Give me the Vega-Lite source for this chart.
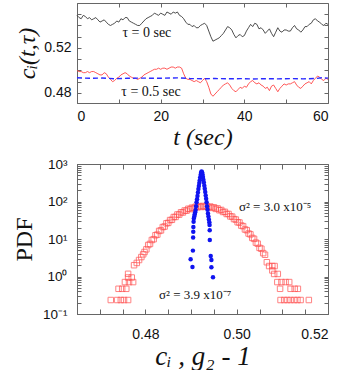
{
  "$schema": "https://vega.github.io/schema/vega-lite/v6.json",
  "background": "white",
  "padding": {"left": 11, "top": 2, "right": 5, "bottom": 0},
  "spacing": 6,
  "config": {
    "view": {"stroke": "#666", "strokeWidth": 1},
    "axis": {
      "grid": false,
      "domainColor": "#666",
      "tickColor": "#666",
      "labelFont": "Liberation Sans",
      "labelFontSize": 13.5,
      "labelColor": "#111",
      "titleFont": "Liberation Serif",
      "titleFontWeight": "normal",
      "titleFontSize": 24,
      "titleColor": "#111"
    }
  },
  "datasets": {
    "series": [
      {"t":0,"a":0.549,"b":0.500},{"t":0.5,"a":0.547,"b":0.499},{"t":1,"a":0.546,"b":0.499},{"t":1.5,"a":0.549,"b":0.498},
      {"t":2,"a":0.548,"b":0.498},{"t":2.5,"a":0.546,"b":0.499},{"t":3,"a":0.547,"b":0.498},{"t":3.5,"a":0.545,"b":0.499},
      {"t":4,"a":0.546,"b":0.499},{"t":4.5,"a":0.547,"b":0.498},{"t":5,"a":0.545,"b":0.497},{"t":5.5,"a":0.543,"b":0.496},
      {"t":6,"a":0.544,"b":0.496},{"t":6.5,"a":0.545,"b":0.498},{"t":7,"a":0.543,"b":0.497},{"t":7.5,"a":0.541,"b":0.494},
      {"t":8,"a":0.540,"b":0.492},{"t":8.5,"a":0.541,"b":0.490},{"t":9,"a":0.542,"b":0.491},{"t":9.5,"a":0.544,"b":0.493},
      {"t":10,"a":0.543,"b":0.494},{"t":10.5,"a":0.546,"b":0.496},{"t":11,"a":0.545,"b":0.497},{"t":11.5,"a":0.547,"b":0.498},
      {"t":12,"a":0.547,"b":0.497},{"t":12.5,"a":0.544,"b":0.495},{"t":13,"a":0.543,"b":0.494},{"t":13.5,"a":0.542,"b":0.493},
      {"t":14,"a":0.541,"b":0.493},{"t":14.5,"a":0.540,"b":0.492},{"t":15,"a":0.540,"b":0.493},{"t":15.5,"a":0.542,"b":0.494},
      {"t":16,"a":0.544,"b":0.496},{"t":16.5,"a":0.546,"b":0.497},{"t":17,"a":0.547,"b":0.498},{"t":17.5,"a":0.548,"b":0.499},
      {"t":18,"a":0.549,"b":0.500},{"t":18.5,"a":0.551,"b":0.501},{"t":19,"a":0.550,"b":0.501},{"t":19.5,"a":0.549,"b":0.502},
      {"t":20,"a":0.551,"b":0.501},{"t":20.5,"a":0.550,"b":0.502},{"t":21,"a":0.549,"b":0.502},{"t":21.5,"a":0.552,"b":0.501},
      {"t":22,"a":0.551,"b":0.502},{"t":22.5,"a":0.550,"b":0.503},{"t":23,"a":0.552,"b":0.503},{"t":23.5,"a":0.551,"b":0.502},
      {"t":24,"a":0.552,"b":0.503},{"t":24.5,"a":0.549,"b":0.503},{"t":25,"a":0.548,"b":0.502},{"t":25.5,"a":0.546,"b":0.497},
      {"t":26,"a":0.543,"b":0.493},{"t":26.5,"a":0.541,"b":0.492},{"t":27,"a":0.541,"b":0.492},{"t":27.5,"a":0.539,"b":0.491},
      {"t":28,"a":0.540,"b":0.490},{"t":28.5,"a":0.538,"b":0.491},{"t":29,"a":0.538,"b":0.490},{"t":29.5,"a":0.540,"b":0.489},
      {"t":30,"a":0.541,"b":0.491},{"t":30.5,"a":0.542,"b":0.493},{"t":31,"a":0.540,"b":0.490},{"t":31.5,"a":0.535,"b":0.485},
      {"t":32,"a":0.530,"b":0.479},{"t":32.5,"a":0.526,"b":0.477},{"t":33,"a":0.527,"b":0.479},{"t":33.5,"a":0.528,"b":0.481},
      {"t":34,"a":0.529,"b":0.483},{"t":34.5,"a":0.531,"b":0.485},{"t":35,"a":0.533,"b":0.487},{"t":35.5,"a":0.536,"b":0.488},
      {"t":36,"a":0.539,"b":0.489},{"t":36.5,"a":0.538,"b":0.487},{"t":37,"a":0.536,"b":0.484},{"t":37.5,"a":0.532,"b":0.482},
      {"t":38,"a":0.529,"b":0.481},{"t":38.5,"a":0.531,"b":0.483},{"t":39,"a":0.532,"b":0.485},{"t":39.5,"a":0.530,"b":0.484},
      {"t":40,"a":0.531,"b":0.486},{"t":40.5,"a":0.535,"b":0.485},{"t":41,"a":0.538,"b":0.488},{"t":41.5,"a":0.541,"b":0.490},
      {"t":42,"a":0.539,"b":0.491},{"t":42.5,"a":0.542,"b":0.489},{"t":43,"a":0.541,"b":0.488},{"t":43.5,"a":0.537,"b":0.489},
      {"t":44,"a":0.538,"b":0.487},{"t":44.5,"a":0.536,"b":0.486},{"t":45,"a":0.533,"b":0.484},{"t":45.5,"a":0.535,"b":0.485},
      {"t":46,"a":0.537,"b":0.482},{"t":46.5,"a":0.533,"b":0.486},{"t":47,"a":0.530,"b":0.487},{"t":47.5,"a":0.534,"b":0.484},
      {"t":48,"a":0.538,"b":0.481},{"t":48.5,"a":0.535,"b":0.484},{"t":49,"a":0.534,"b":0.486},{"t":49.5,"a":0.536,"b":0.488},
      {"t":50,"a":0.536,"b":0.487},{"t":50.5,"a":0.535,"b":0.488},{"t":51,"a":0.535,"b":0.488},{"t":51.5,"a":0.538,"b":0.489},
      {"t":52,"a":0.540,"b":0.490},{"t":52.5,"a":0.537,"b":0.487},{"t":53,"a":0.536,"b":0.485},{"t":53.5,"a":0.534,"b":0.484},
      {"t":54,"a":0.536,"b":0.486},{"t":54.5,"a":0.539,"b":0.488},{"t":55,"a":0.539,"b":0.489},{"t":55.5,"a":0.541,"b":0.490},
      {"t":56,"a":0.542,"b":0.488},{"t":56.5,"a":0.545,"b":0.491},{"t":57,"a":0.546,"b":0.493},{"t":57.5,"a":0.544,"b":0.495},
      {"t":58,"a":0.543,"b":0.494},{"t":58.5,"a":0.541,"b":0.492},{"t":59,"a":0.540,"b":0.491},{"t":59.5,"a":0.542,"b":0.493},
      {"t":60,"a":0.541,"b":0.492}
    ],
    "g2series": [
      {"t":0,"g":0.4935},{"t":3,"g":0.4930},{"t":6,"g":0.4932},{"t":9,"g":0.4926},{"t":12,"g":0.4930},{"t":15,"g":0.4932},
      {"t":18,"g":0.4930},{"t":21,"g":0.4931},{"t":24,"g":0.4934},{"t":27,"g":0.4928},{"t":30,"g":0.4926},{"t":33,"g":0.4928},
      {"t":36,"g":0.4925},{"t":39,"g":0.4927},{"t":42,"g":0.4924},{"t":45,"g":0.4926},{"t":48,"g":0.4925},{"t":51,"g":0.4927},
      {"t":54,"g":0.4925},{"t":57,"g":0.4928},{"t":58.5,"g":0.4935},{"t":60,"g":0.4931}
    ],
    "pdf_c": [
      {"x":0.4724,"p":0.236},{"x":0.4738,"p":0.236},{"x":0.4746,"p":0.236},{"x":0.4753,"p":0.236},{"x":0.4762,"p":0.236},
      {"x":0.4741,"p":0.47},{"x":0.4749,"p":0.47},{"x":0.4758,"p":0.47},
      {"x":0.4755,"p":0.71},{"x":0.4764,"p":0.71},{"x":0.4773,"p":0.71},
      {"x":0.4762,"p":0.94},{"x":0.4770,"p":0.94},{"x":0.4762,"p":1.18},
      {"x":0.4775,"p":2.0},{"x":0.4781,"p":2.3},{"x":0.4786,"p":2.75},{"x":0.4791,"p":3.3},{"x":0.4795,"p":3.9},{"x":0.4798,"p":4.5},
      {"x":0.4802,"p":5.3},{"x":0.4806,"p":6.9},{"x":0.4810,"p":7.4},{"x":0.4814,"p":9.4},{"x":0.4818,"p":9.9},{"x":0.4822,"p":12.6},
      {"x":0.4826,"p":13.1},{"x":0.4830,"p":16.4},{"x":0.4834,"p":17.0},{"x":0.4838,"p":20.8},{"x":0.4842,"p":21.5},{"x":0.4846,"p":26.2},
      {"x":0.4850,"p":26.9},{"x":0.4854,"p":32.0},{"x":0.4858,"p":32.5},{"x":0.4862,"p":38.5},{"x":0.4866,"p":38.8},{"x":0.4870,"p":45.0},
      {"x":0.4874,"p":44.8},{"x":0.4878,"p":51.5},{"x":0.4882,"p":51.0},{"x":0.4886,"p":57.5},{"x":0.4890,"p":57.0},{"x":0.4894,"p":64.0},
      {"x":0.4898,"p":62.5},{"x":0.4902,"p":68.5},{"x":0.4906,"p":66.5},{"x":0.4910,"p":72.5},{"x":0.4914,"p":70.0},{"x":0.4918,"p":75.0},
      {"x":0.4922,"p":71.5},{"x":0.4926,"p":76.0},{"x":0.4930,"p":72.0},{"x":0.4934,"p":75.5},{"x":0.4938,"p":70.5},{"x":0.4942,"p":73.5},
      {"x":0.4946,"p":67.5},{"x":0.4950,"p":70.0},{"x":0.4954,"p":63.5},{"x":0.4958,"p":65.5},{"x":0.4962,"p":58.5},{"x":0.4966,"p":59.5},
      {"x":0.4970,"p":52.5},{"x":0.4974,"p":53.0},{"x":0.4978,"p":46.5},{"x":0.4982,"p":46.5},{"x":0.4986,"p":40.0},{"x":0.4990,"p":39.5},
      {"x":0.4994,"p":34.0},{"x":0.4998,"p":33.0},{"x":0.5002,"p":28.0},{"x":0.5006,"p":27.5},{"x":0.5010,"p":22.8},{"x":0.5014,"p":22.0},
      {"x":0.5018,"p":18.0},{"x":0.5022,"p":17.2},{"x":0.5026,"p":14.0},{"x":0.5030,"p":13.3},{"x":0.5034,"p":10.7},{"x":0.5038,"p":10.1},
      {"x":0.5042,"p":8.0},{"x":0.5046,"p":7.5},{"x":0.5050,"p":5.8},{"x":0.5054,"p":5.5},{"x":0.5058,"p":4.2},{"x":0.5062,"p":3.8},
      {"x":0.5066,"p":2.4},{"x":0.5071,"p":1.9},{"x":0.5078,"p":1.9},{"x":0.5083,"p":1.9},{"x":0.5078,"p":1.45},{"x":0.5082,"p":1.17},
      {"x":0.5090,"p":1.17},
      {"x":0.5089,"p":0.71},{"x":0.5098,"p":0.71},{"x":0.5107,"p":0.71},{"x":0.5115,"p":0.71},
      {"x":0.5095,"p":0.47},{"x":0.5118,"p":0.47},{"x":0.5127,"p":0.47},{"x":0.5134,"p":0.47},
      {"x":0.5096,"p":0.236},{"x":0.5104,"p":0.236},{"x":0.5111,"p":0.236},{"x":0.5118,"p":0.236},{"x":0.5126,"p":0.236},
      {"x":0.5133,"p":0.236},{"x":0.5140,"p":0.236},{"x":0.5158,"p":0.236}
    ],
    "pdf_g": [
      {"x":0.4899,"p":2.9},{"x":0.4903,"p":1.8},{"x":0.4904,"p":4.9},{"x":0.49045,"p":11},{"x":0.49048,"p":15.7},{"x":0.4905,"p":21},
      {"x":0.49055,"p":29},{"x":0.4906,"p":35},{"x":0.4907,"p":40},{"x":0.4908,"p":46},{"x":0.4909,"p":52},{"x":0.4910,"p":59},
      {"x":0.4911,"p":75},{"x":0.4912,"p":95},{"x":0.4913,"p":115},{"x":0.4914,"p":140},{"x":0.4915,"p":175},{"x":0.4916,"p":215},
      {"x":0.4917,"p":260},{"x":0.4918,"p":310},{"x":0.4919,"p":370},{"x":0.4920,"p":440},{"x":0.4921,"p":520},{"x":0.4922,"p":590},
      {"x":0.4923,"p":630},{"x":0.4924,"p":600},{"x":0.4925,"p":530},{"x":0.4926,"p":450},{"x":0.4927,"p":380},{"x":0.4928,"p":320},
      {"x":0.4929,"p":265},{"x":0.4930,"p":220},{"x":0.4931,"p":180},{"x":0.4932,"p":145},{"x":0.4933,"p":118},{"x":0.4934,"p":95},
      {"x":0.4935,"p":75},{"x":0.4936,"p":60},{"x":0.4937,"p":48},{"x":0.4938,"p":40},{"x":0.4939,"p":33},{"x":0.4940,"p":28},
      {"x":0.49405,"p":23.6},{"x":0.49408,"p":17},{"x":0.4941,"p":9.4},{"x":0.4943,"p":3.5},{"x":0.49445,"p":2.75},{"x":0.49445,"p":1.76},
      {"x":0.4948,"p":0.95}
    ]
  },
  "vconcat": [
    {
      "width": 251,
      "height": 100,
      "layer": [
        {
          "data": {"name": "series"},
          "mark": {"type": "line", "color": "#3a3a3a", "strokeWidth": 0.9},
          "encoding": {
            "x": {"field": "t", "type": "quantitative", "scale": {"domain": [0, 60], "nice": false, "zero": false},
              "axis": {"orient": "bottom", "values": [0,10,20,30,40,50,60], "labelExpr": "datum.value % 20 === 0 ? datum.label : ''",
                "tickSize": -4, "labelPadding": 10, "labelFontSize": 14, "title": "t (sec)", "titleFontStyle": "italic", "titlePadding": 2}},
            "y": {"field": "a", "type": "quantitative", "scale": {"domain": [0.471, 0.56], "nice": false, "zero": false},
              "axis": {"orient": "left", "values": [0.48,0.49,0.5,0.51,0.52,0.53,0.54,0.55], "format": ".2f",
                "labelExpr": "abs(datum.value-0.48)<1e-9 || abs(datum.value-0.52)<1e-9 ? datum.label : ''",
                "tickSize": -4, "labelPadding": 10, "labelFontSize": 14, "title": "cᵢ(t,τ)", "titleFontStyle": "italic", "titlePadding": 4}}
          }
        },
        {
          "data": {"name": "series"},
          "mark": {"type": "line", "color": "#ff4545", "strokeWidth": 0.9},
          "encoding": {
            "x": {"field": "t", "type": "quantitative", "axis": null},
            "y": {"field": "b", "type": "quantitative", "axis": null}
          }
        },
        {
          "data": {"name": "g2series"},
          "mark": {"type": "line", "color": "#2a2aff", "strokeWidth": 1.4, "strokeDash": [5, 3]},
          "encoding": {
            "x": {"field": "t", "type": "quantitative", "axis": null},
            "y": {"field": "g", "type": "quantitative", "axis": null}
          }
        },
        {
          "data": {"values": [{}]},
          "mark": {"type": "text", "font": "Liberation Serif", "fontSize": 14, "color": "#111"},
          "encoding": {
            "x": {"datum": 16.7, "type": "quantitative", "axis": null},
            "y": {"datum": 0.5333, "type": "quantitative", "axis": null},
            "text": {"value": "τ = 0 sec"}
          }
        },
        {
          "data": {"values": [{}]},
          "mark": {"type": "text", "font": "Liberation Serif", "fontSize": 14, "color": "#111"},
          "encoding": {
            "x": {"datum": 17.7, "type": "quantitative", "axis": null},
            "y": {"datum": 0.4809, "type": "quantitative", "axis": null},
            "text": {"value": "τ = 0.5 sec"}
          }
        },
        {
          "data": {"name": "g2series"},
          "mark": {"type": "line", "opacity": 0},
          "encoding": {
            "x": {"field": "t", "type": "quantitative",
              "axis": {"orient": "top", "values": [0,10,20,30,40,50,60], "labels": false, "title": null, "tickSize": -4, "domain": false}},
            "y": {"field": "g", "type": "quantitative",
              "axis": {"orient": "right", "values": [0.48,0.49,0.5,0.51,0.52,0.53,0.54,0.55], "labels": false, "title": null, "tickSize": -4, "domain": false}}
          }
        }
      ],
      "resolve": {"axis": {"x": "independent", "y": "independent"}}
    },
    {
      "width": 251,
      "height": 150,
      "layer": [
        {
          "data": {"name": "pdf_c"},
          "mark": {"type": "point", "shape": "square", "filled": false, "size": 30, "strokeWidth": 1, "color": "#ff4d4d"},
          "encoding": {
            "x": {"field": "x", "type": "quantitative", "scale": {"domain": [0.465, 0.52], "nice": false, "zero": false},
              "axis": {"orient": "bottom", "values": [0.465,0.47,0.475,0.48,0.485,0.49,0.495,0.5,0.505,0.51,0.515,0.52], "format": ".2f",
                "labelExpr": "abs(datum.value-0.48)<1e-9 || abs(datum.value-0.5)<1e-9 || abs(datum.value-0.52)<1e-9 ? datum.label : ''",
                "tickSize": -5, "labelPadding": 18, "labelFontSize": 14, "title": "cᵢ , g₂ - 1", "titleFontStyle": "italic", "titleFontSize": 27, "titlePadding": 2}},
            "y": {"field": "p", "type": "quantitative", "scale": {"type": "log", "domain": [0.1, 1000], "nice": false},
              "axis": {"orient": "left", "values": [0.1,0.2,0.3,0.4,0.5,0.6,0.7,0.8,0.9,1,2,3,4,5,6,7,8,9,10,20,30,40,50,60,70,80,90,100,200,300,400,500,600,700,800,900,1000],
                "labelExpr": "datum.value == 1000 ? '10³' : datum.value == 100 ? '10²' : datum.value == 10 ? '10¹' : datum.value == 1 ? '10⁰' : datum.value == 0.1 ? '10⁻¹' : ''",
                "tickSize": -4, "labelPadding": 14, "labelFontSize": 13.5, "title": "PDF", "titlePadding": 6}}
          }
        },
        {
          "data": {"name": "pdf_g"},
          "mark": {"type": "circle", "size": 20, "opacity": 1, "color": "#0f14f0"},
          "encoding": {
            "x": {"field": "x", "type": "quantitative", "axis": null},
            "y": {"field": "p", "type": "quantitative", "axis": null}
          }
        },
        {
          "data": {"values": [{}]},
          "mark": {"type": "text", "font": "Liberation Serif", "fontSize": 13, "color": "#111"},
          "encoding": {
            "x": {"datum": 0.5084, "type": "quantitative", "axis": null},
            "y": {"datum": 71, "type": "quantitative", "axis": null},
            "text": {"value": "σ² = 3.0 x10⁻⁵"}
          }
        },
        {
          "data": {"values": [{}]},
          "mark": {"type": "text", "font": "Liberation Serif", "fontSize": 13, "color": "#111"},
          "encoding": {
            "x": {"datum": 0.4909, "type": "quantitative", "axis": null},
            "y": {"datum": 0.32, "type": "quantitative", "axis": null},
            "text": {"value": "σ² = 3.9 x10⁻⁷"}
          }
        },
        {
          "data": {"name": "pdf_g"},
          "mark": {"type": "circle", "opacity": 0},
          "encoding": {
            "x": {"field": "x", "type": "quantitative",
              "axis": {"orient": "top", "values": [0.465,0.47,0.475,0.48,0.485,0.49,0.495,0.5,0.505,0.51,0.515,0.52], "labels": false, "title": null, "tickSize": -5, "domain": false}},
            "y": {"field": "p", "type": "quantitative",
              "axis": {"orient": "right", "values": [0.1,0.2,0.3,0.4,0.5,0.6,0.7,0.8,0.9,1,2,3,4,5,6,7,8,9,10,20,30,40,50,60,70,80,90,100,200,300,400,500,600,700,800,900,1000], "labels": false, "title": null, "tickSize": -4, "domain": false}}
          }
        }
      ],
      "resolve": {"axis": {"x": "independent", "y": "independent"}}
    }
  ]
}
